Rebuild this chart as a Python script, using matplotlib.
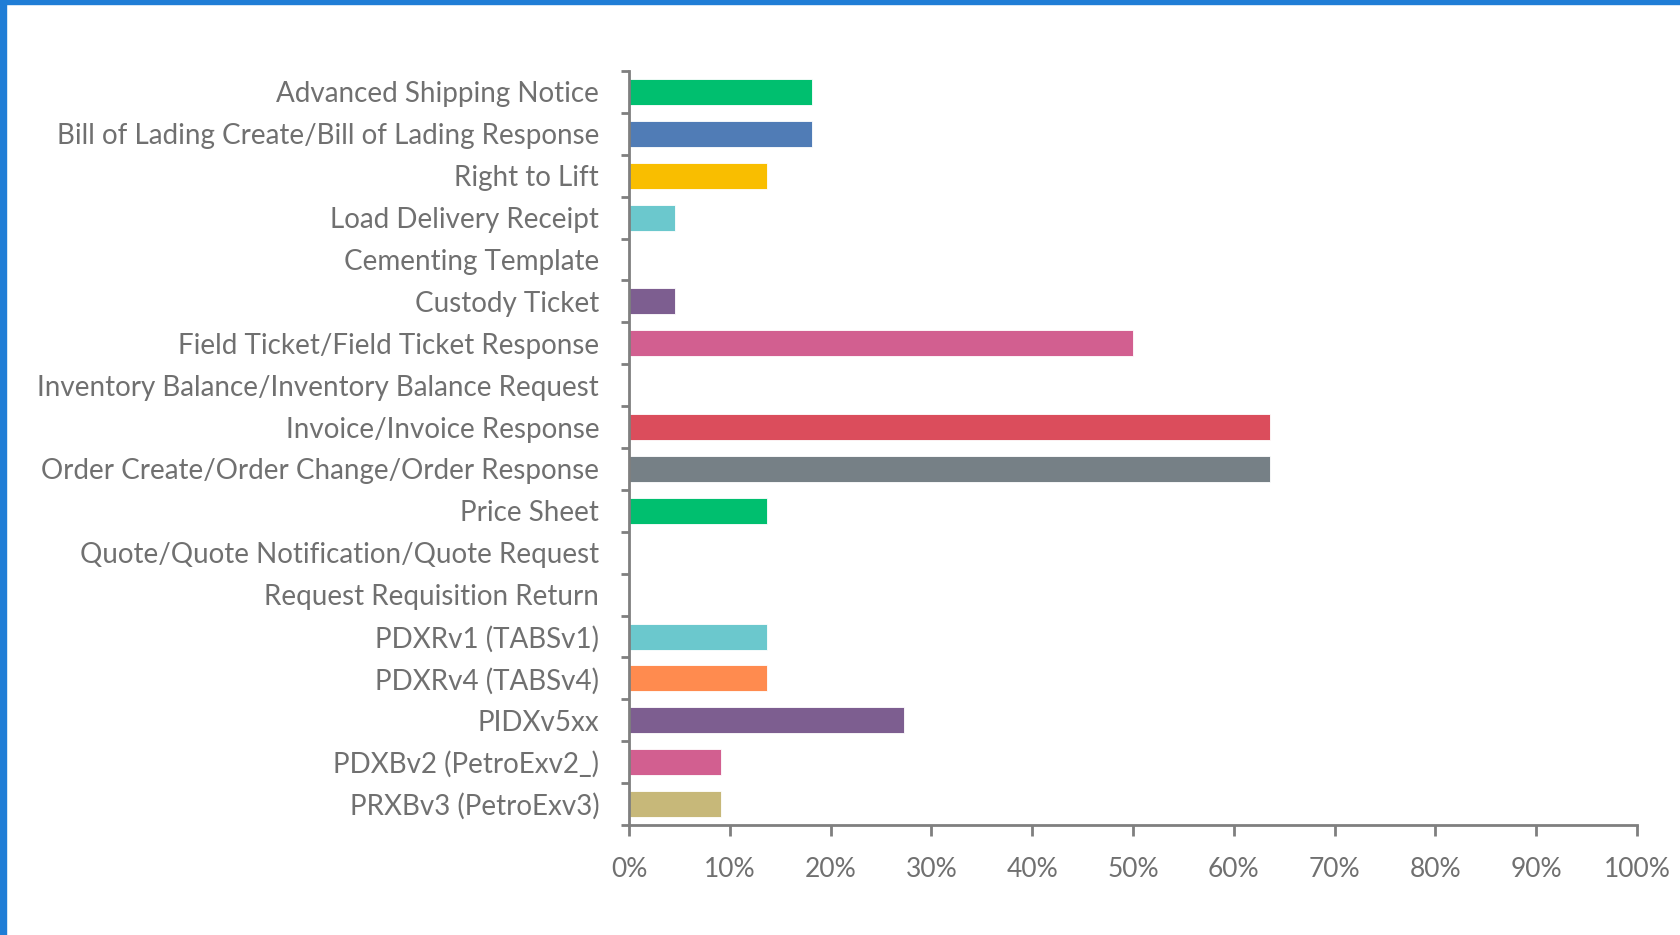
import numpy as np
import matplotlib.pyplot as plt
from matplotlib.patches import Rectangle
from matplotlib.ticker import FixedLocator, PercentFormatter

plt.rcParams['font.family'] = ['Lato', 'DejaVu Sans']

categories = [
    "Advanced Shipping Notice",
    "Bill of Lading Create/Bill of Lading Response",
    "Right to Lift",
    "Load Delivery Receipt",
    "Cementing Template",
    "Custody Ticket",
    "Field Ticket/Field Ticket Response",
    "Inventory Balance/Inventory Balance Request",
    "Invoice/Invoice Response",
    "Order Create/Order Change/Order Response",
    "Price Sheet",
    "Quote/Quote Notification/Quote Request",
    "Request Requisition Return",
    "PDXRv1 (TABSv1)",
    "PDXRv4 (TABSv4)",
    "PIDXv5xx",
    "PDXBv2 (PetroExv2_)",
    "PRXBv3 (PetroExv3)",
]
percent = [18.18, 18.18, 13.64, 4.55, 0, 4.55, 50.0, 0, 63.64, 63.64,
           13.64, 0, 0, 13.64, 13.64, 27.27, 9.09, 9.09]
colors = ["#00BF6F", "#507CB6", "#F9BE00", "#6BC8CD", "#FF8B4F", "#7D5E90",
          "#D25F90", "#C7B879", "#DB4D5C", "#768086",
          "#00BF6F", "#507CB6", "#F9BE00", "#6BC8CD", "#FF8B4F", "#7D5E90",
          "#D25F90", "#C7B879"]

text_gray = "#707070"
axis_gray = "#7F7F7F"

fig = plt.figure(figsize=(16.81, 9.35), dpi=100)
ax = fig.add_axes([0.3742, 0.1176, 0.5996, 0.8065])

y = np.arange(len(categories))
ax.barh(y, percent, height=0.62, color=colors, edgecolor="white", linewidth=0.6)

ax.set_xlim(0, 100)
ax.set_ylim(len(categories) - 0.5, -0.5)

ax.set_yticks(y)
ax.set_yticklabels(categories, fontsize=20, color=text_gray)
ax.yaxis.set_minor_locator(FixedLocator(np.arange(-0.5, len(categories), 1.0)))
ax.tick_params(axis="y", which="major", length=0, pad=21.5)
ax.tick_params(axis="y", which="minor", length=6, width=2, color=axis_gray)

ax.set_xticks(np.arange(0, 101, 10))
ax.xaxis.set_major_formatter(PercentFormatter(decimals=0))
ax.tick_params(axis="x", length=8, width=2, color=axis_gray, pad=15,
               labelsize=19, labelcolor=text_gray)

for side in ["top", "right"]:
    ax.spines[side].set_visible(False)
for side in ["left", "bottom"]:
    ax.spines[side].set_color(axis_gray)
    ax.spines[side].set_linewidth(2)

# blue frame on the top and left of the screenshot
fig.patches.append(Rectangle((0, 1 - 3.5 / 935), 1, 3.5 / 935, transform=fig.transFigure,
                             color="#1F7DD6", zorder=10))
fig.patches.append(Rectangle((0, 0), 6 / 1681, 1, transform=fig.transFigure,
                             color="#1F7DD6", zorder=10))

fig.savefig("out.png", dpi=100)
